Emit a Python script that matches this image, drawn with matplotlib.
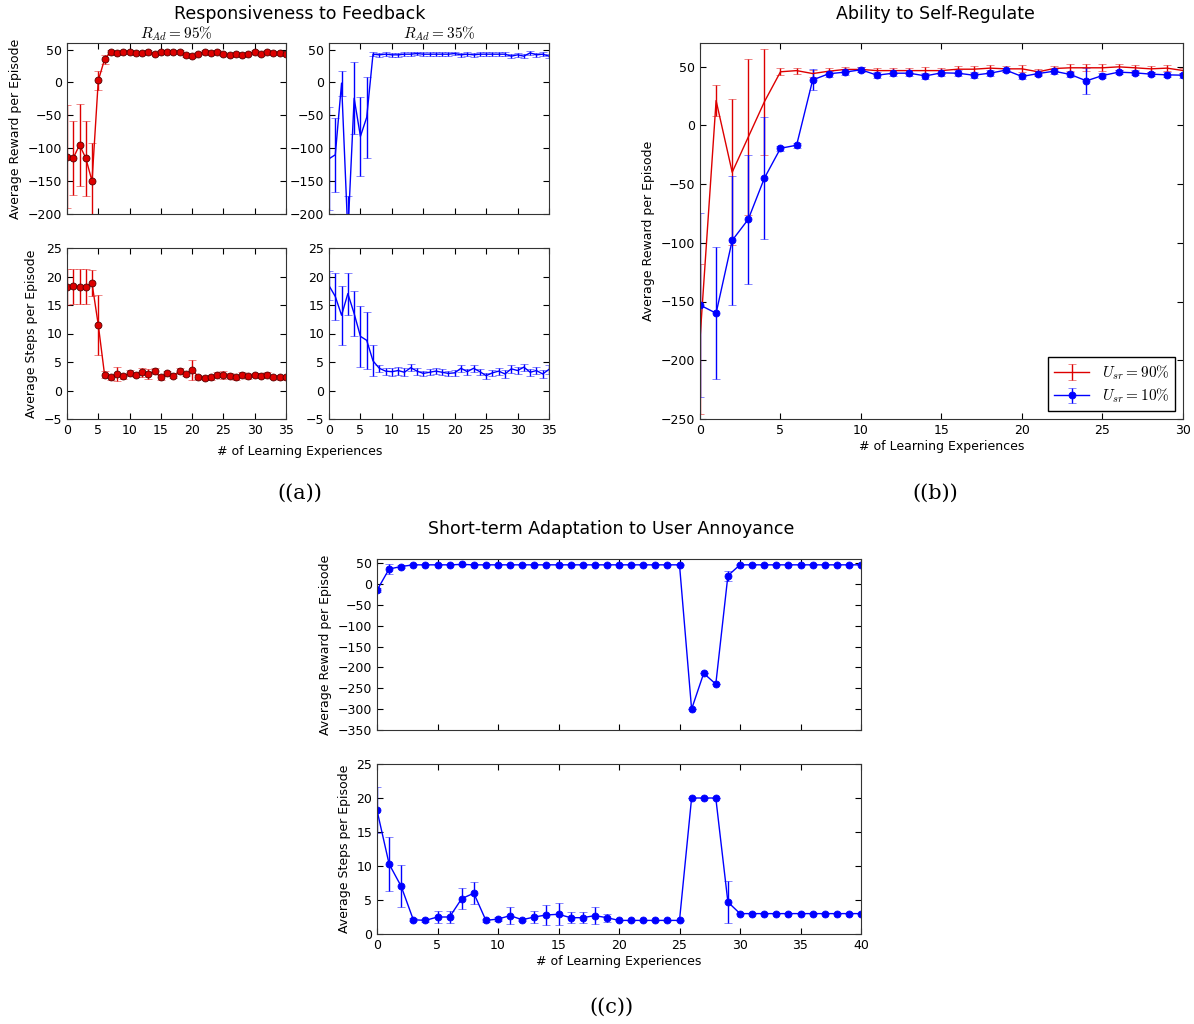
import matplotlib
matplotlib.use('Agg')
import matplotlib.pyplot as plt

# ---- data ----
xa = list(range(36))
a95_reward = [-113, -115, -95, -115, -150, 3, 35, 47, 45, 47, 47, 45, 45, 46, 44, 46, 46, 46,
              46, 42, 40, 44, 47, 45, 47, 43, 42, 43, 42, 44, 47, 43, 47, 45, 45, 43]
a95_reward_err = [78, 56, 62, 57, 58, 15, 7, 3, 3, 3, 3, 3, 3, 3, 3, 3, 3, 3,
                  3, 3, 3, 3, 3, 3, 3, 3, 3, 3, 3, 3, 3, 3, 3, 3, 3, 3]
a35_reward = [-116, -110, -1, -230, -24, -82, -53, 43, 42, 43, 42, 42, 43, 43, 44, 43, 43, 43,
              43, 43, 44, 42, 43, 42, 43, 43, 43, 43, 43, 40, 42, 40, 45, 42, 43, 40]
a35_reward_err = [78, 56, 19, 57, 55, 60, 62, 3, 3, 3, 3, 3, 3, 3, 3, 3, 3, 3,
                  3, 3, 3, 3, 3, 3, 3, 3, 3, 3, 3, 3, 3, 3, 3, 3, 3, 3]
a95_steps = [18.2, 18.3, 18.2, 18.2, 18.8, 11.5, 2.8, 2.3, 2.9, 2.5, 3.1, 2.8, 3.2, 2.9, 3.4, 2.3, 3.0, 2.6,
             3.4, 2.9, 3.6, 2.4, 2.2, 2.3, 2.8, 2.8, 2.6, 2.3, 2.8, 2.5, 2.7, 2.6, 2.8, 2.4, 2.3, 2.4]
a95_steps_err = [3.2, 3.1, 3.1, 3.1, 2.3, 5.2, 0.6, 0.4, 1.2, 0.4, 0.5, 0.4, 0.8, 0.8, 0.5, 0.4, 0.4, 0.4,
                 0.5, 0.4, 1.8, 0.4, 0.3, 0.4, 0.5, 0.7, 0.4, 0.4, 0.5, 0.4, 0.4, 0.4, 0.5, 0.4, 0.4, 0.4]
a35_steps = [18.4, 16.5, 13.2, 17.0, 13.5, 9.5, 8.8, 5.2, 3.9, 3.4, 3.3, 3.5, 3.2, 4.0, 3.4, 3.0, 3.2, 3.4,
             3.2, 3.0, 3.1, 3.9, 3.3, 3.9, 3.3, 2.6, 3.1, 3.4, 2.9, 3.8, 3.5, 4.1, 3.2, 3.5, 2.9, 3.7]
a35_steps_err = [2.5, 4.2, 5.2, 3.7, 4.0, 5.3, 5.0, 2.7, 0.6, 0.6, 0.7, 0.7, 0.7, 0.6, 0.6, 0.5, 0.5, 0.5,
                 0.5, 0.5, 0.5, 0.6, 0.5, 0.6, 0.5, 0.5, 0.5, 0.6, 0.7, 0.7, 0.6, 0.6, 0.6, 0.6, 0.7, 0.8]

xb = list(range(31))
b_red = [-182, 21, -40, -10, 20, 45.5, 46.5, 44, 46, 47.5, 47.5, 46.5, 46.5, 46.5, 46.5, 46.5,
         47.7, 47.7, 48.6, 48, 48, 45.5, 48.3, 48.9, 48.9, 48.9, 49.7, 48.9, 48, 48.6, 46.6]
b_red_err = [64, 13, 62, 66, 45, 3, 2.5, 3, 2.5, 2.5, 2, 2.5, 2.5, 2.5, 3, 2.5,
             3, 3, 3, 2.5, 3, 2.5, 2.5, 3, 3, 3, 2.5, 2.5, 2.5, 2.5, 2.5]
b_blue = [-153, -160, -98, -80, -45, -19.6, -17, 38.6, 43.8, 45.2, 47.2, 42.6, 44.3, 44.3, 42, 44.6,
          44.3, 42.6, 44.3, 46.9, 41.5, 44, 46, 43.2, 37.8, 42.3, 45.2, 44.6, 43.5, 42.9, 42.6]
b_blue_err = [78, 56, 55, 55, 52, 2, 2, 9, 2.5, 2.5, 2, 2.5, 2.5, 2.5, 2.5, 2.5,
              2.5, 2.5, 2.5, 2, 2.5, 2.5, 2, 2.5, 11, 2.5, 2, 2, 2, 2, 2]
b_labels = [r'$U_{sr}=90\%$', r'$U_{sr}=10\%$']

xc = list(range(41))
c_reward = [-15, 36, 42, 46, 46, 46, 46, 47, 46, 46, 46, 46, 46, 46, 46, 46, 46, 46, 46, 46, 46,
            46, 46, 46, 46, 46, -300, -214, -240, 20, 46, 46, 46, 46, 46, 46, 46, 46, 46, 46, 46]
c_reward_err = [5, 12, 4, 1, 1, 1, 1, 1, 1, 1, 1, 1, 1, 1, 1, 1, 1, 1, 1, 1, 1,
                1, 1, 1, 1, 1, 0, 0, 0, 12, 1, 1, 1, 1, 1, 1, 1, 1, 1, 1, 1]
c_steps = [18.2, 10.3, 7.0, 2.1, 2.0, 2.5, 2.5, 5.2, 6.0, 2.0, 2.2, 2.7, 2.1, 2.5, 2.8, 2.9, 2.4, 2.4,
           2.7, 2.4, 2.0, 2.0, 2.0, 2.0, 2.0, 2.0, 20, 20, 20, 4.7, 3.0, 3.0, 3.0, 3.0, 3.0, 3.0,
           3.0, 3.0, 3.0, 3.0, 3.0]
c_steps_err = [3.4, 4.0, 3.1, 0.2, 0.2, 0.9, 0.9, 1.5, 1.6, 0.2, 0.3, 1.3, 0.2, 0.9, 1.5, 1.6, 0.8, 0.8,
               1.3, 0.6, 0.1, 0.1, 0.1, 0.1, 0.1, 0.1, 0, 0, 0, 3.1, 0.1, 0.1, 0.1, 0.1, 0.1, 0.1,
               0.1, 0.1, 0.1, 0.1, 0.1]

# ---- style (old matplotlib look) ----
plt.rcParams['font.family'] = 'DejaVu Sans'
plt.rcParams['mathtext.fontset'] = 'cm'
plt.rcParams['xtick.direction'] = 'in'
plt.rcParams['ytick.direction'] = 'in'
plt.rcParams['xtick.top'] = True
plt.rcParams['ytick.right'] = True
plt.rcParams['xtick.major.size'] = 4
plt.rcParams['ytick.major.size'] = 4
plt.rcParams['xtick.labelsize'] = 9
plt.rcParams['ytick.labelsize'] = 9
plt.rcParams['axes.labelsize'] = 9
plt.rcParams['axes.edgecolor'] = '#333333'

W, H = 1194, 1024
fig = plt.figure(figsize=(W / 100, H / 100), dpi=100)


def box(l, t, r, b):
    return [l / W, 1 - b / H, (r - l) / W, (b - t) / H]


def eb(ax, x, y, e, color, marker=None, mec=None):
    line, caps, bars = ax.errorbar(x, y, yerr=e, color=color, ecolor=color, lw=1,
                                   marker=marker, ms=5, mec=mec, mew=0.6,
                                   capsize=3, elinewidth=1)
    for c in caps:
        c.set_alpha(0.55)
    return line


red = '#dd0000'
blue = '#0000ff'

# ---- (a) ----
ax1 = fig.add_axes(box(67, 43, 286, 214))
eb(ax1, xa, a95_reward, a95_reward_err, red, 'o', '#550000')
ax1.set_ylim(-200, 60)
ax1.set_yticks(range(-200, 51, 50))
ax1.set_ylabel('Average Reward per Episode')
ax1.set_title(r'$R_{Ad}=95\%$', fontsize=11, pad=2)

ax2 = fig.add_axes(box(329, 43, 549, 214))
eb(ax2, xa, a35_reward, a35_reward_err, blue)
ax2.set_ylim(-200, 60)
ax2.set_yticks(range(-200, 51, 50))
ax2.set_title(r'$R_{Ad}=35\%$', fontsize=11, pad=2)

ax3 = fig.add_axes(box(67, 248, 286, 419))
eb(ax3, xa, a95_steps, a95_steps_err, red, 'o', '#550000')
ax3.set_ylim(-5, 25)
ax3.set_ylabel('Average Steps per Episode')

ax4 = fig.add_axes(box(329, 248, 549, 419))
eb(ax4, xa, a35_steps, a35_steps_err, blue)
ax4.set_ylim(-5, 25)

for ax in (ax1, ax2, ax3, ax4):
    ax.set_xlim(0, 35)
    ax.set_xticks(range(0, 36, 5))
for ax in (ax1, ax2):
    ax.set_xticklabels([])

fig.text(300 / W, 1 - 14 / H, 'Responsiveness to Feedback', ha='center', va='center', fontsize=12.5)
fig.text(300 / W, 1 - 451 / H, '# of Learning Experiences', ha='center', va='center', fontsize=9)
fig.text(300 / W, 1 - 493 / H, '((a))', ha='center', va='center', fontsize=15, family='DejaVu Serif')

# ---- (b) ----
axb = fig.add_axes(box(700, 43, 1183, 419))
h1 = eb(axb, xb, b_red, b_red_err, red)
h2 = eb(axb, xb, b_blue, b_blue_err, blue, 'o', blue)
axb.set_xlim(0, 30)
axb.set_ylim(-250, 70)
axb.set_yticks(range(-250, 51, 50))
axb.set_xticks(range(0, 31, 5))
axb.set_ylabel('Average Reward per Episode')
axb.set_xlabel('# of Learning Experiences', labelpad=2)
leg = axb.legend(b_labels, loc='lower right', fontsize=11, fancybox=False, framealpha=1,
                 edgecolor='black', handlelength=2.3, borderpad=0.4, labelspacing=0.3)
fig.text(935 / W, 1 - 14 / H, 'Ability to Self-Regulate', ha='center', va='center', fontsize=12.5)
fig.text(935 / W, 1 - 493 / H, '((b))', ha='center', va='center', fontsize=15, family='DejaVu Serif')

# ---- (c) ----
axc1 = fig.add_axes(box(377, 559, 861, 730))
eb(axc1, xc, c_reward, c_reward_err, blue, 'o', blue)
axc1.set_ylim(-350, 60)
axc1.set_yticks(range(-350, 51, 50))
axc1.set_ylabel('Average Reward per Episode')

axc2 = fig.add_axes(box(377, 764, 861, 934))
eb(axc2, xc, c_steps, c_steps_err, blue, 'o', blue)
axc2.set_ylim(0, 25)
axc2.set_ylabel('Average Steps per Episode')
axc2.set_xlabel('# of Learning Experiences', labelpad=2)

for ax in (axc1, axc2):
    ax.set_xlim(0, 40)
    ax.set_xticks(range(0, 41, 5))
axc1.set_xticklabels([])

fig.text(611 / W, 1 - 529 / H, 'Short-term Adaptation to User Annoyance', ha='center', va='center', fontsize=12.5)
fig.text(611 / W, 1 - 1007 / H, '((c))', ha='center', va='center', fontsize=15, family='DejaVu Serif')

fig.savefig('out.png', dpi=100)
